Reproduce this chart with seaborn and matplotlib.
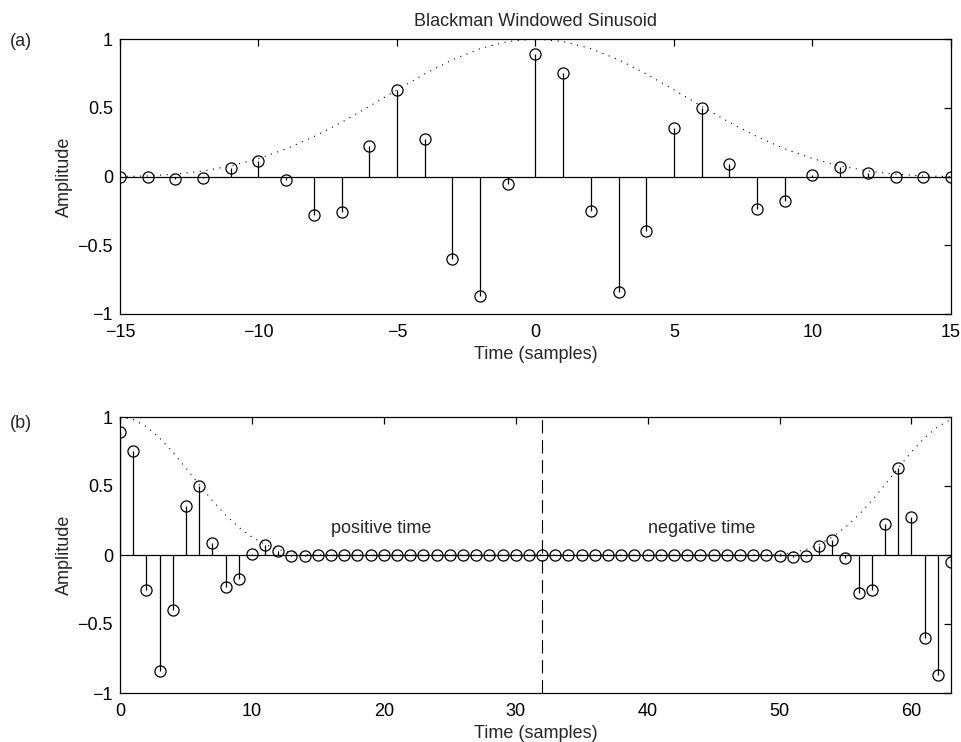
import numpy as np
import pandas as pd
import matplotlib
matplotlib.use("Agg")
import matplotlib.pyplot as plt
import seaborn as sns

# Windowed sinusoid samples, n = -15 .. 15
n = np.arange(-15, 16)
x_vals = [0.0, -0.005, -0.015, -0.01, 0.065, 0.11, -0.025, -0.277, -0.257, 0.223,
          0.63, 0.273, -0.598, -0.87, -0.052, 0.89, 0.756, -0.252, -0.842, -0.395,
          0.354, 0.499, 0.088, -0.233, -0.177, 0.009, 0.071, 0.027, -0.007, -0.005, 0.0]
# Blackman window envelope at the same samples
w_vals = [0.0, 0.004, 0.017, 0.040, 0.077, 0.13, 0.201, 0.290, 0.394, 0.510,
          0.63, 0.746, 0.849, 0.930, 0.982, 1.0, 0.982, 0.930, 0.849, 0.746,
          0.63, 0.510, 0.394, 0.290, 0.201, 0.13, 0.077, 0.040, 0.017, 0.004, 0.0]

N_FFT = 64
half = 15

# Zero-phase FFT buffer: positive time first, zeros in the middle, negative time at the end
x_arr = np.array(x_vals)
w_arr = np.array(w_vals)
pad = N_FFT - len(x_arr)
buf_x = np.concatenate([x_arr[half:], np.zeros(pad), x_arr[:half]])
buf_w = np.concatenate([w_arr[half:], np.zeros(pad), w_arr[:half]])
k = np.arange(N_FFT)

FS = 13

sns.set_style("white")
plt.rcParams["font.family"] = ["Liberation Sans", "DejaVu Sans"]
plt.rcParams["font.size"] = FS

fig = plt.figure(figsize=(9.62, 7.42), dpi=100)
ax1 = fig.add_axes([120 / 962, 1 - 314 / 742, 831 / 962, 275 / 742])
ax2 = fig.add_axes([120 / 962, 1 - 693 / 742, 831 / 962, 276 / 742])


def stem_panel(ax, xs, ys, ws, xlim):
    ml, sl, bl = ax.stem(xs, ys, linefmt="k-", markerfmt="o", basefmt="k-")
    plt.setp(ml, markerfacecolor="none", markeredgecolor="black",
             markersize=8, markeredgewidth=0.9)
    plt.setp(sl, linewidth=0.9, color="black")
    plt.setp(bl, linewidth=0.9, color="black")
    bl.set_xdata(list(xlim))
    env = pd.DataFrame({"t": xs, "w": ws})
    sns.lineplot(data=env, x="t", y="w", ax=ax, color="black", linewidth=0.8,
                 linestyle=(0, (1, 5)), legend=False)
    ax.set_xlim(*xlim)
    ax.set_ylim(-1, 1)
    ax.set_yticks([-1, -0.5, 0, 0.5, 1])
    ax.set_yticklabels(["\u22121", "\u22120.5", "0", "0.5", "1"])
    ax.set_ylabel("Amplitude", fontsize=FS)
    ax.set_xlabel("Time (samples)", fontsize=FS, labelpad=4)
    ax.tick_params(axis="x", pad=7)
    ax.tick_params(axis="y", pad=5)
    ax.tick_params(direction="in", length=5, width=0.9, top=True, right=True,
                   labelsize=FS, colors="black")
    for s in ax.spines.values():
        s.set_visible(True)
        s.set_linewidth(0.9)
        s.set_color("black")


stem_panel(ax1, n, x_arr, w_arr, (-15, 15))
ax1.set_xticks([-15, -10, -5, 0, 5, 10, 15])
ax1.set_xticklabels(["\u221215", "\u221210", "\u22125", "0", "5", "10", "15"])
ax1.set_title("Blackman Windowed Sinusoid", fontsize=FS, pad=9)

stem_panel(ax2, k, buf_x, buf_w, (0, 63))
ax2.set_xticks([0, 10, 20, 30, 40, 50, 60])
ax2.axvline(N_FFT // 2, color="black", linewidth=0.8, linestyle=(0, (12, 6)))
ax2.text(16, 0.19, "positive time", ha="left", va="center", fontsize=FS)
ax2.text(40, 0.19, "negative time", ha="left", va="center", fontsize=FS)

fig.text(10 / 962, 1 - 42 / 742, "(a)", ha="left", va="center", fontsize=FS)
fig.text(10 / 962, 1 - 424 / 742, "(b)", ha="left", va="center", fontsize=FS)

ax1.yaxis.set_label_coords(-0.057, 0.5)
ax2.yaxis.set_label_coords(-0.057, 0.5)

fig.savefig("out.png", dpi=100, facecolor="white")
